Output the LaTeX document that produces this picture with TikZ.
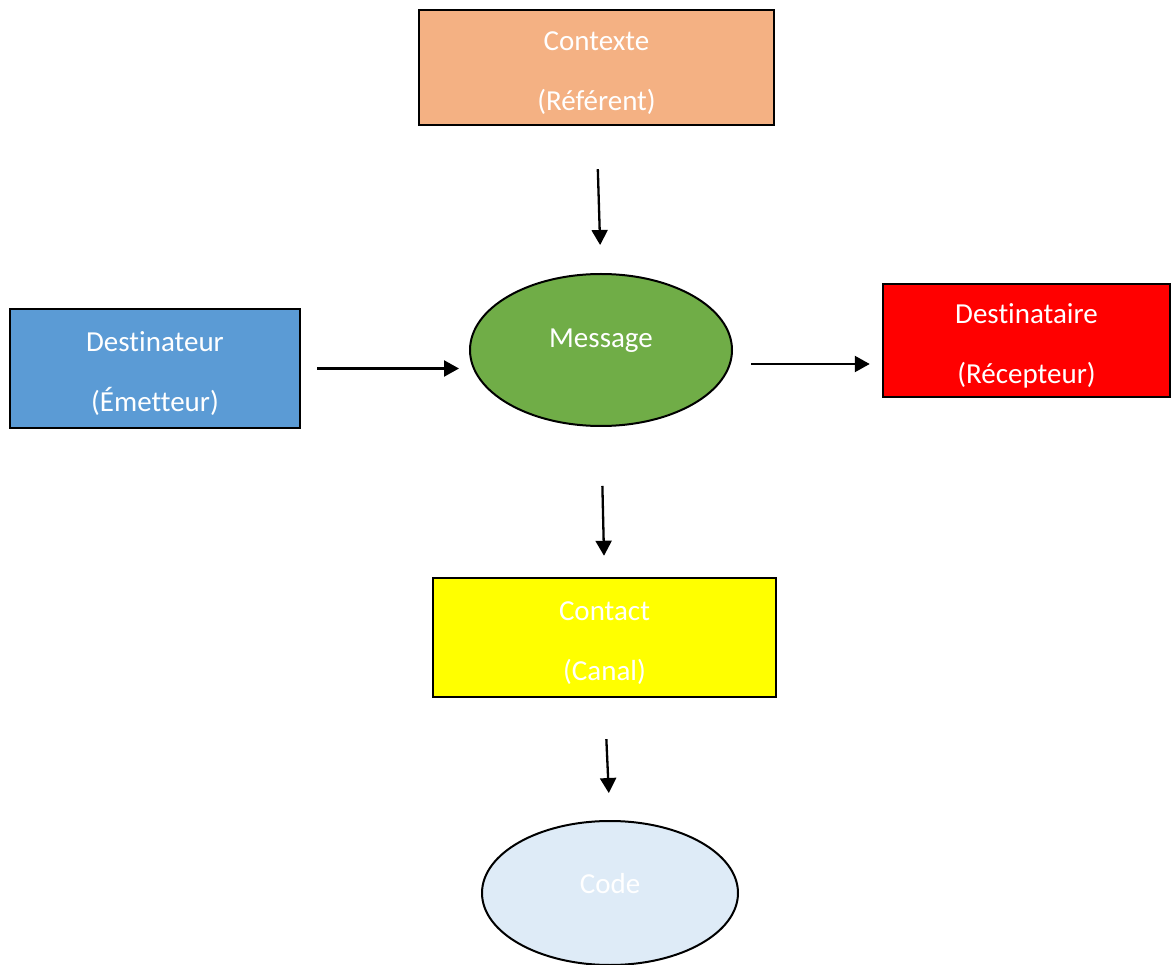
\documentclass[tikz,border=0pt]{standalone}
\usepackage{fontspec}
\setmainfont[Ligatures=NoCommon]{Carlito}
\usepackage{tikz}
\usetikzlibrary{arrows.meta}
\usetikzlibrary{shapes.geometric}

\definecolor{orangectx}{HTML}{F4B183}
\definecolor{bleudst}{HTML}{5B9BD5}
\definecolor{vertmsg}{HTML}{70AD47}
\definecolor{rougercv}{HTML}{FF0000}
\definecolor{jaunectc}{HTML}{FFFF00}
\definecolor{bleucode}{HTML}{DEEBF7}

\tikzset{
	boite/.style={draw=black, line width=2.5pt, inner sep=0pt, text=white, align=center,
		text height=91pt, font=\fontsize{29}{60}\selectfont},
	ovale/.style={ellipse, draw=black, line width=2pt, inner sep=0pt, text=white,
		font=\fontsize{29}{35}\selectfont},
	fleche/.style={line width=2.3pt, -{Triangle[length=15pt,width=16pt]}}
}

\begin{document}
\begin{tikzpicture}[x=1pt,y=-1pt]

			\useasboundingbox (0,0) rectangle (1171,965);

			% les six fonctions
			\node[boite, fill=orangectx, minimum width=355pt, minimum height=115pt] (ctx) at (596.5,67.5) {Contexte\\(Référent)};
			\node[boite, fill=bleudst, minimum width=290pt, minimum height=119pt] (dst) at (155,368.5) {Destinateur\\(Émetteur)};
			\node[ovale, fill=vertmsg, minimum width=262pt, minimum height=152pt, text depth=24pt] (msg) at (601,350) {Message};
			\node[boite, fill=rougercv, minimum width=287pt, minimum height=113pt] (rcv) at (1026.5,340.5) {Destinataire\\(Récepteur)};
			\node[boite, fill=jaunectc, minimum width=343pt, minimum height=119pt] (ctc) at (604.5,637.5) {Contact\\(Canal)};
			\node[ovale, fill=bleucode, minimum width=256pt, minimum height=144pt, text depth=20pt] (code) at (610,893) {Code};

			% les fleches
			\draw[fleche, shorten <=43pt, shorten >=28pt] (ctx.south) -- (msg.north);
			\draw[fleche, shorten <=16pt, shorten >=10pt] (dst.east) -- (dst.east -| msg.west);
			\draw[fleche, shorten <=18pt, shorten >=12pt] ([yshift=-14pt]msg.east) -- ([yshift=-14pt]msg.east -| rcv.west);
			\draw[fleche, shorten <=59pt, shorten >=21pt] (msg.south) -- (ctc.north);
			\draw[fleche, shorten <=41pt, shorten >=27pt] (ctc.south) -- (code.north);

		\end{tikzpicture}
\end{document}
